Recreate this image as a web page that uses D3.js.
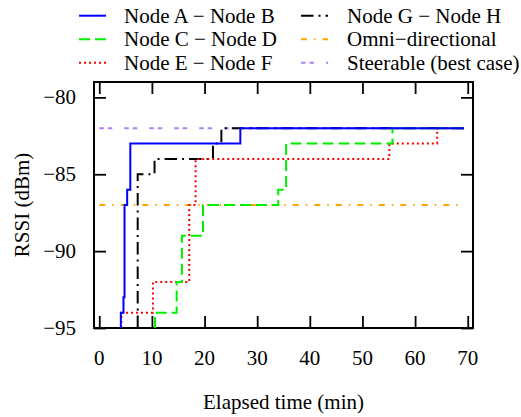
<!DOCTYPE html>
<html>
<head>
<meta charset="utf-8">
<script src="https://cdn.jsdelivr.net/npm/d3@7"></script>
</head>
<body style="margin:0">
<svg id="chart" width="521" height="417"></svg>
<script>
const svgWidth = 521, svgHeight = 417;
const plot = {left: 94, right: 473, top: 82, bottom: 328};
const serifFont = "'Liberation Serif'";
const fontSize = 21;

// step series: time (min) where each level starts, RSSI (dBm)
const abTimes  = [4.1, 4.1, 4.6, 4.8, 5.3, 5.9, 26.8, 69.3];
const abValues = [-95, -94, -93, -87, -86, -83, -82, -82];
const cdTimes  = [10.6, 10.6, 14.7, 15.7, 19.7, 34.0, 35.5, 55.7, 69.3];
const cdValues = [-95, -94, -92, -89, -87, -86, -83, -82, -82];
const efTimes  = [4.2, 4.2, 10.2, 17.1, 18.3, 55.1, 64.2, 69.3];
const efValues = [-95, -94, -92, -87, -84, -83, -82, -82];
const ghTimes  = [7.3, 7.3, 10.5, 21.6, 23.2, 69.3];
const ghValues = [-95, -85, -84, -83, -82, -82];
const omniTimes = [0, 69.3];
const omniValues = [-87, -87];
const steerTimes = [0, 69.3];
const steerValues = [-82, -82];

const xTicks = [0, 10, 20, 30, 40, 50, 60, 70];
const yTicks = [-80, -85, -90, -95];

const series = [
  {name: "Node A \u2212 Node B", t: abTimes, v: abValues, color: "#0000ff", dash: null, col: 0, row: 0},
  {name: "Node C \u2212 Node D", t: cdTimes, v: cdValues, color: "#00ee00", dash: "11,5", col: 0, row: 1},
  {name: "Node E \u2212 Node F", t: efTimes, v: efValues, color: "#ff0000", dash: "2,3", col: 0, row: 2},
  {name: "Node G \u2212 Node H", t: ghTimes, v: ghValues, color: "#000000", dash: "12.5,5,2,5", col: 1, row: 0},
  {name: "Omni\u2212directional", t: omniTimes, v: omniValues, color: "#ffa500", dash: "6,7,1.5,7", col: 1, row: 1},
  {name: "Steerable (best case)", t: steerTimes, v: steerValues, color: "#b080f4", dash: "4.5,4,4.5,12", col: 1, row: 2}
];

const chart = d3.select("#chart");

function serif(sel) {
  return sel.attr("font-family", serifFont)
    .style("font-family", serifFont)
    .attr("font-size", fontSize)
    .style("font-size", fontSize + "px")
    .attr("fill", "#000");
}

const x = d3.scaleLinear().domain([-1, 71]).range([plot.left, plot.right]);
const y = d3.scaleLinear().domain([-95, -79]).range([plot.bottom, plot.top]);

chart.append("clipPath").attr("id", "clip")
  .append("rect")
    .attr("x", plot.left).attr("y", plot.top)
    .attr("width", plot.right - plot.left).attr("height", plot.bottom - plot.top);

// ticks pointing inward on all four sides
const tickLen = 12;
const bottomAxis = chart.append("g")
    .attr("transform", "translate(0," + plot.bottom + ")")
    .call(d3.axisBottom(x).tickValues(xTicks).tickSize(-tickLen).tickFormat(""));
const topAxis = chart.append("g")
    .attr("transform", "translate(0," + plot.top + ")")
    .call(d3.axisTop(x).tickValues(xTicks).tickSize(-tickLen).tickFormat(""));
const leftAxis = chart.append("g")
    .attr("transform", "translate(" + plot.left + ",0)")
    .call(d3.axisLeft(y).tickValues(yTicks).tickSize(-tickLen).tickFormat(""));
const rightAxis = chart.append("g")
    .attr("transform", "translate(" + plot.right + ",0)")
    .call(d3.axisRight(y).tickValues(yTicks).tickSize(-tickLen).tickFormat(""));

[bottomAxis, topAxis, leftAxis, rightAxis].forEach(function(a) {
  a.select(".domain").remove();
  a.selectAll("text").remove();
  a.selectAll(".tick line").attr("stroke", "#000").attr("stroke-width", 1.8);
});

// tick labels as plain svg text
chart.append("g").selectAll("text").data(xTicks).enter().append("text")
    .attr("x", d => x(d)).attr("y", 365)
    .attr("text-anchor", "middle")
    .call(serif)
    .text(d => d);

chart.append("g").selectAll("text").data(yTicks).enter().append("text")
    .attr("x", 76).attr("y", d => y(d) + 7)
    .attr("text-anchor", "end")
    .call(serif)
    .text(d => "\u2212" + Math.abs(d));

chart.append("rect")
    .attr("x", plot.left).attr("y", plot.top)
    .attr("width", plot.right - plot.left).attr("height", plot.bottom - plot.top)
    .attr("fill", "none").attr("stroke", "#000").attr("stroke-width", 2);

// series
const line = d3.line()
    .x(d => x(d[0]))
    .y(d => y(d[1]))
    .curve(d3.curveStepAfter);

const lines = chart.append("g").attr("clip-path", "url(#clip)");
// horizontal references first, then node pairs on top
[5, 4, 3, 2, 1, 0].forEach(function(i) {
  const s = series[i];
  lines.append("path")
      .datum(s.t.map((t, j) => [t, s.v[j]]))
      .attr("d", line)
      .attr("fill", "none")
      .attr("stroke", s.color)
      .attr("stroke-width", 2)
      .attr("stroke-dasharray", s.dash);
});

// legend
const legendCols = [{x0: 79, x1: 106, tx: 124}, {x0: 301, x1: 328, tx: 347}];
const legendRows = [15.7, 39.3, 62.7];
const legend = chart.append("g");
series.forEach(function(s) {
  const c = legendCols[s.col], ry = legendRows[s.row];
  legend.append("line")
      .attr("x1", c.x0).attr("x2", c.x1)
      .attr("y1", ry).attr("y2", ry)
      .attr("stroke", s.color).attr("stroke-width", 2)
      .attr("stroke-dasharray", s.dash);
});
legend.selectAll("text").data(series).enter().append("text")
    .attr("x", d => legendCols[d.col].tx)
    .attr("y", d => legendRows[d.row] + 7)
    .call(serif)
    .text(d => d.name);

// axis titles
chart.append("text")
    .attr("x", (plot.left + plot.right) / 2).attr("y", 409)
    .attr("text-anchor", "middle")
    .call(serif)
    .text("Elapsed time (min)");

chart.append("text")
    .attr("transform", "translate(29," + ((plot.top + plot.bottom) / 2) + ") rotate(-90)")
    .attr("text-anchor", "middle")
    .call(serif)
    .text("RSSI (dBm)");
</script>
</body>
</html>
